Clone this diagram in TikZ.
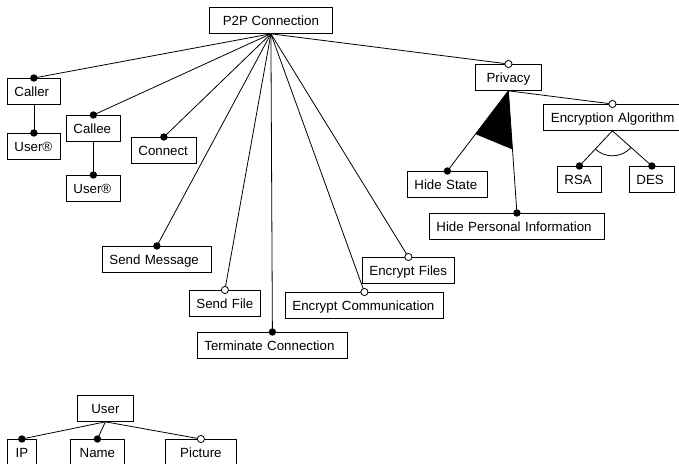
\documentclass[tikz,border=0pt]{standalone}
\usepackage{fontspec}
\setmainfont{Liberation Sans}
\usetikzlibrary{calc}
\tikzset{
  bx/.style={draw, fill=white, anchor=north west, inner xsep=7pt, inner ysep=0pt,
    minimum height=26pt, text height=12.5pt, text depth=2.5pt,
    font=\fontsize{13.3pt}{15pt}\selectfont, line width=0.8pt},
  lb/.style={bx, align=left, text width=#1},
  cb/.style={bx, minimum width=#1},
  conn/.style={line width=0.8pt},
  fdot/.style={fill=black},
  hdot/.style={draw=black, fill=white, line width=0.8pt}
}
\begin{document}
\begin{tikzpicture}[x=1pt,y=-1pt]
\useasboundingbox (0,0) rectangle (679,463);
\clip (0,0) rectangle (679,463);
\fill[white] (0,0) rectangle (679,463);
% nodes
\node[cb=123pt] (p2p) at (209,7) {P2P Connection};
\node[lb=39pt] (caller) at (7,78) {Caller};
\node[lb=39pt] (user1) at (7,133) {User®};
\node[lb=40pt] (callee) at (66,115) {Callee};
\node[lb=40pt] (user2) at (66,175) {User®};
\node[lb=51pt] (connect) at (131,137) {Connect};
\node[lb=95pt] (sendmsg) at (102,246) {Send Message};
\node[lb=57pt] (sendfile) at (189,290) {Send File};
\node[lb=136pt] (term) at (197,332) {Terminate Connection};
\node[lb=144pt] (enccomm) at (285,292) {Encrypt Communication};
\node[lb=78pt] (encfiles) at (362,257) {Encrypt Files};
\node[cb=66pt] (privacy) at (475,64) {Privacy};
\node[lb=66pt] (hidestate) at (407,171) {Hide State};
\node[lb=161pt] (hidepers) at (429,213) {Hide Personal Information};
\node[bx, text width=123pt, inner xsep=7.5pt, align=left] (encalg) at (543,104) {\mbox{Encryption Algorithm}};
\node[lb=30pt] (rsa) at (557,166) {RSA};
\node[lb=31pt] (des) at (629,166) {DES};
\node[cb=56pt] (user) at (77,395) {User};
\node[cb=29pt] (ip) at (7,439) {IP};
\node[cb=54pt] (name) at (70,439) {Name};
\node[cb=71pt] (picture) at (165,439) {Picture};
% connectors
\foreach \c in {caller,callee,connect,sendmsg,sendfile,term,enccomm,encfiles,privacy}
  \draw[conn] (p2p.south) -- (\c.north);
\draw[conn] (caller.south) -- (user1.north);
\draw[conn] (callee.south) -- (user2.north);
\draw[conn] (privacy.south) -- (hidestate.north);
\draw[conn] (privacy.south) -- (hidepers.north);
\draw[conn] (privacy.south) -- (encalg.north);
\draw[conn] (encalg.south) -- (rsa.north);
\draw[conn] (encalg.south) -- (des.north);
\foreach \c in {ip,name,picture}
  \draw[conn] (user.south) -- (\c.north);
% or-group
\fill[black] (privacy.south) -- ($(privacy.south)!0.54!(hidestate.north)$) -- ($(privacy.south)!0.48!(hidepers.north)$) -- cycle;
% alternative arc
\begin{scope}
  \clip (encalg.south) -- (rsa.north) -- (des.north) -- cycle;
  \draw[conn] (encalg.south) circle (25);
\end{scope}
% markers
\foreach \c in {caller,callee,connect,sendmsg,term,user1,user2,hidestate,hidepers,rsa,des,ip,name}
  \fill[fdot] (\c.north) circle (3.7);
\foreach \c in {sendfile,enccomm,encfiles,privacy,encalg,picture}
  \path[hdot] (\c.north) circle (3.6);
\end{tikzpicture}
\end{document}
